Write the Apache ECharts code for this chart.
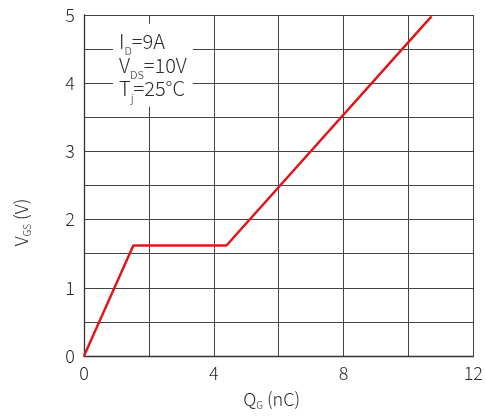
<!DOCTYPE html>
<html>
<head>
<meta charset="utf-8">
<script src="https://cdn.jsdelivr.net/npm/echarts@6/dist/echarts.min.js"></script>
<style>html,body{margin:0;padding:0;background:#fff}#c{width:486px;height:418px}</style>
</head>
<body>
<div id="c"></div>
<script>
// Gate charge curve: Q_G (nC) vs V_GS (V)
const qg = [0, 1.52, 4.39, 10.71];
const vgs = [0, 1.62, 1.62, 4.98];
const xTickLabels = ['0', '4', '8', '12'];
const yTickLabels = ['0', '1', '2', '3', '4', '5'];
const conditions = ['I|D|=9A', 'V|DS|=10V', 'T|j|=25°C'];

const FONT = '"Noto Sans CJK SC", "Noto Sans", sans-serif';
const chart = echarts.init(document.getElementById('c'), null, {renderer: 'canvas'});
const annText = conditions.map(s => {
  const p = s.split('|');
  return '{n|' + p[0] + '}{s|' + p[1] + '}{n|' + p[2] + '}';
}).join('\n');

chart.setOption({
  animation: false,
  backgroundColor: '#fff',
  grid: {left: 84, right: 9, top: 15, bottom: 62},
  title: {
    text: annText,
    left: 113, top: 27,
    padding: [3, 6, 3, 6],
    backgroundColor: '#fff',
    textStyle: {
      rich: {
        n: {fontFamily: FONT, fontSize: 20, fontWeight: 300, color: '#2a2a2a', lineHeight: 23.5},
        s: {fontFamily: FONT, fontSize: 11, fontWeight: 300, color: '#2a2a2a', lineHeight: 23.5, padding: [19, 0, 0, 0]}
      }
    }
  },
  xAxis: {
    type: 'value', min: 0, max: 12, interval: 2,
    name: '{n|Q}{s|G}{n| (nC)}',
    nameLocation: 'middle', nameGap: 32,
    nameTextStyle: {
      padding: [0, 14, 0, 0],
      rich: {
        n: {fontFamily: FONT, fontSize: 18, fontWeight: 300, color: '#2a2a2a'},
        s: {fontFamily: FONT, fontSize: 10, fontWeight: 300, color: '#2a2a2a', padding: [12, 0, 0, 0]}
      }
    },
    axisLine: {show: true, lineStyle: {color: '#333', width: 1.3}},
    axisTick: {show: false},
    splitLine: {show: true, lineStyle: {color: '#444', width: 1}},
    axisLabel: {
      fontFamily: FONT, fontSize: 18, fontWeight: 300, color: '#2a2a2a', margin: 8,
      formatter: v => (v % 4 === 0 ? xTickLabels[v / 4] : '')
    }
  },
  yAxis: {
    type: 'value', min: 0, max: 5, interval: 0.5,
    name: '{n|V}{s|GS}{n| (V)}',
    nameLocation: 'middle', nameGap: 52, nameRotate: 90,
    nameTextStyle: {
      padding: [0, 74, 0, 0],
      rich: {
        n: {fontFamily: FONT, fontSize: 18, fontWeight: 300, color: '#2a2a2a'},
        s: {fontFamily: FONT, fontSize: 10, fontWeight: 300, color: '#2a2a2a', padding: [12, 0, 0, 0]}
      }
    },
    axisLine: {show: true, lineStyle: {color: '#333', width: 1.3}},
    axisTick: {show: false},
    splitLine: {show: true, lineStyle: {color: '#444', width: 1}},
    axisLabel: {
      fontFamily: FONT, fontSize: 18, fontWeight: 300, color: '#2a2a2a', margin: 9,
      formatter: v => (Number.isInteger(v) ? yTickLabels[v] : '')
    }
  },
  series: [{
    type: 'line',
    data: qg.map((x, i) => [x, vgs[i]]),
    symbol: 'none',
    lineStyle: {color: '#e0161b', width: 2.5},
    z: 3
  }]
});
</script>
</body>
</html>
